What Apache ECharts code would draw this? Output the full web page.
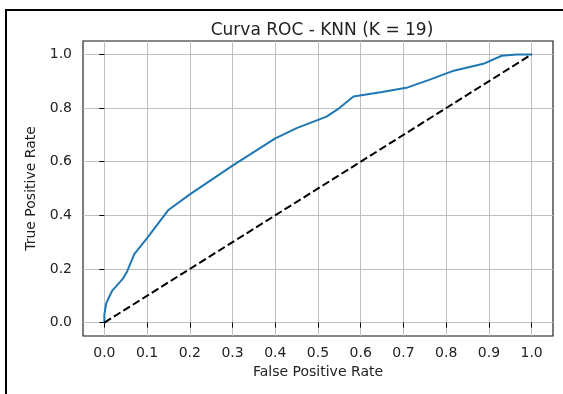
<!DOCTYPE html>
<html>
<head>
<meta charset="utf-8">
<script src="https://cdn.jsdelivr.net/npm/echarts@6/dist/echarts.min.js"></script>
<style>
  html, body { margin: 0; padding: 0; background: #fff; }
  #chart { width: 563px; height: 394px; }
</style>
</head>
<body>
<div id="chart"></div>
<script>
// ROC curve of the KNN classifier (K = 19)
const fpr = [0, 0, 0.004, 0.008, 0.012, 0.018, 0.03, 0.044, 0.053, 0.07, 0.1, 0.15, 0.2, 0.3, 0.4, 0.45, 0.52, 0.55, 0.583, 0.65, 0.71, 0.76, 0.81, 0.82, 0.887, 0.93, 0.965, 1.0];
const tpr = [0, 0.03, 0.07, 0.085, 0.09, 0.118, 0.14, 0.165, 0.19, 0.255, 0.315, 0.42, 0.478, 0.585, 0.687, 0.725, 0.768, 0.8, 0.843, 0.86, 0.877, 0.905, 0.935, 0.94, 0.965, 0.995, 1.0, 1.0];

// Random-classifier diagonal
const chanceX = [0, 1];
const chanceY = [0, 1];

// Tick positions for each axis
const tickValues = [0, 0.1, 0.2, 0.3, 0.4, 0.5, 0.6, 0.7, 0.8, 0.9, 1.0];
const yTickValues = [0, 0.2, 0.4, 0.6, 0.8, 1.0];

const titleText = 'Curva ROC - KNN (K = 19)';
const xName = 'False Positive Rate';
const yName = 'True Positive Rate';

const FONT = 'DejaVu Sans';
const chart = echarts.init(document.getElementById('chart'), null, { renderer: 'canvas' });

function axisCommon(ticks, labelMargin) {
  return {
    type: 'value',
    min: -0.05,
    max: 1.05,
    axisLine: { show: false },
    axisTick: { show: true, customValues: ticks, length: 5, lineStyle: { color: '#000', width: 1 } },
    axisLabel: {
      customValues: ticks,
      formatter: v => v.toFixed(1),
      fontFamily: FONT, fontSize: 14, color: '#222', margin: labelMargin
    },
    splitLine: { show: true, lineStyle: { color: '#c0c0c0', width: 1 } },
    nameLocation: 'middle',
    nameTextStyle: { fontFamily: FONT, fontSize: 14, color: '#222' }
  };
}

chart.setOption({
  backgroundColor: '#fff',
  animation: false,
  title: {
    text: titleText,
    left: 317, top: 17,
    textAlign: 'center',
    textStyle: { fontFamily: FONT, fontSize: 17, fontWeight: 'normal', color: '#222' }
  },
  graphic: [{
    type: 'rect',
    shape: { x: 6, y: 10, width: 640, height: 460 },
    style: { fill: null, stroke: '#000', lineWidth: 2 },
    silent: true, z: 100
  }],
  grid: {
    left: 83, right: 10, top: 41, bottom: 58,
    show: true, borderColor: '#111', borderWidth: 1.1, backgroundColor: 'transparent'
  },
  xAxis: Object.assign(axisCommon(tickValues, 10), { name: xName, nameGap: 28 }),
  yAxis: Object.assign(axisCommon(yTickValues, 11), { name: yName, nameGap: 43 }),
  series: [
    {
      type: 'line',
      data: fpr.map((x, i) => [x, tpr[i]]),
      showSymbol: false,
      lineStyle: { color: '#1f77b4', width: 2 },
      z: 3
    },
    {
      type: 'line',
      data: chanceX.map((x, i) => [x, chanceY[i]]),
      showSymbol: false,
      lineStyle: { color: '#000', width: 2, type: [7.8, 3.4] },
      z: 4
    }
  ]
});
</script>
</body>
</html>
